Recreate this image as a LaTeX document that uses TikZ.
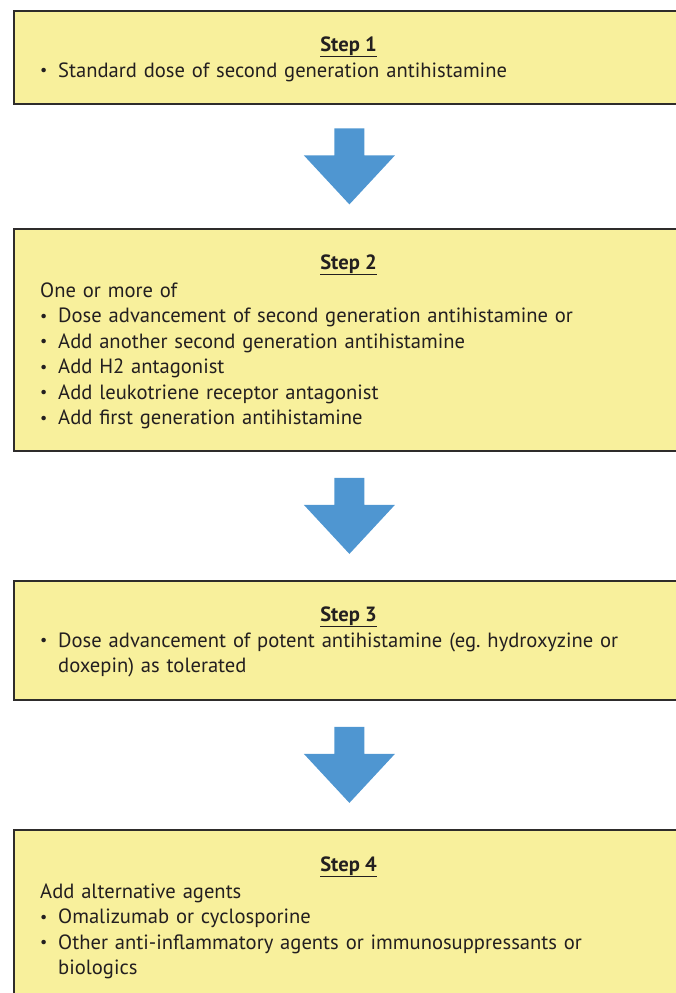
\documentclass[tikz,border=0pt]{standalone}
\usepackage{fontspec}
\setmainfont{PT Sans}
\usetikzlibrary{calc}

\definecolor{stepyellow}{HTML}{F8F09C}
\definecolor{stepedge}{HTML}{2E2C2B}
\definecolor{arrowblue}{HTML}{4F96D1}
\definecolor{inkgray}{HTML}{231F20}

\newcommand{\stepbullet}{\makebox[18pt][l]{\raisebox{1.5pt}{\fontsize{16}{25.5}\selectfont\textbullet}}}
\newcommand{\stepindent}{\hspace*{18pt}}

\begin{document}
\frenchspacing
\begin{tikzpicture}[x=1pt, y=-1pt, text=inkgray, font=\fontsize{20.6}{25.5}\selectfont,
    stepbox/.style={draw=stepedge, line width=1.8pt, fill=stepyellow, anchor=north west, inner sep=0pt, minimum width=671pt},
    steptitle/.style={anchor=base, inner sep=0pt, font=\fontsize{20.6}{25.5}\selectfont\bfseries},
    steptext/.style={anchor=base west, inner sep=0pt, text width=630pt, align=left},
    downarrow/.pic={\fill[arrowblue] (-15,-38) -- (15,-38) -- (15,-11) -- (45.5,-11)
      -- (0,38) -- (-45.5,-11) -- (-15,-11) -- cycle;}]
    \useasboundingbox (0,0) rectangle (675,993);

    % the four steps
    \node[stepbox, minimum height=93pt]   (s1) at (13,10)  {};
    \node[stepbox, minimum height=222pt]  (s2) at (13,228) {};
    \node[stepbox, minimum height=119pt]  (s3) at (13,580) {};
    \node[stepbox, minimum height=181pt]  (s4) at (13,829) {};

    \node[steptitle] (t1) at (348.5,51)  {\underline{Step 1}};
    \node[steptitle] (t2) at (348.5,269) {\underline{Step 2}};
    \node[steptitle] (t3) at (348.5,621) {\underline{Step 3}};
    \node[steptitle] (t4) at (348.5,871) {\underline{Step 4}};

    \node[steptext] (b1) at (40,77)  {\stepbullet Standard dose of second generation antihistamine};
    \node[steptext] (b2) at (40,297) {One or more of\\
      \stepbullet Dose advancement of second generation antihistamine or\\
      \stepbullet Add another second generation antihistamine\\
      \stepbullet Add H2 antagonist\\
      \stepbullet Add leukotriene receptor antagonist\\
      \stepbullet Add first generation antihistamine};
    \node[steptext] (b3) at (40,647) {\stepbullet Dose advancement of potent antihistamine (eg.\ hydroxyzine or\\
      \stepindent doxepin) as tolerated};
    \node[steptext] (b4) at (40,898) {Add alternative agents\\
      \stepbullet Omalizumab or cyclosporine\\
      \stepbullet Other anti-inflammatory agents or immunosuppressants or\\
      \stepindent biologics};

    % arrows between steps
    \coordinate (a1) at ($(s1.south)!0.5!(s2.north)$);
    \coordinate (a2) at ($(s2.south)!0.5!(s3.north)$);
    \coordinate (a3) at ($(s3.south)!0.5!(s4.north)$);
    \pic at (a1) {downarrow};
    \pic at (a2) {downarrow};
    \pic at (a3) {downarrow};
\end{tikzpicture}
\end{document}
